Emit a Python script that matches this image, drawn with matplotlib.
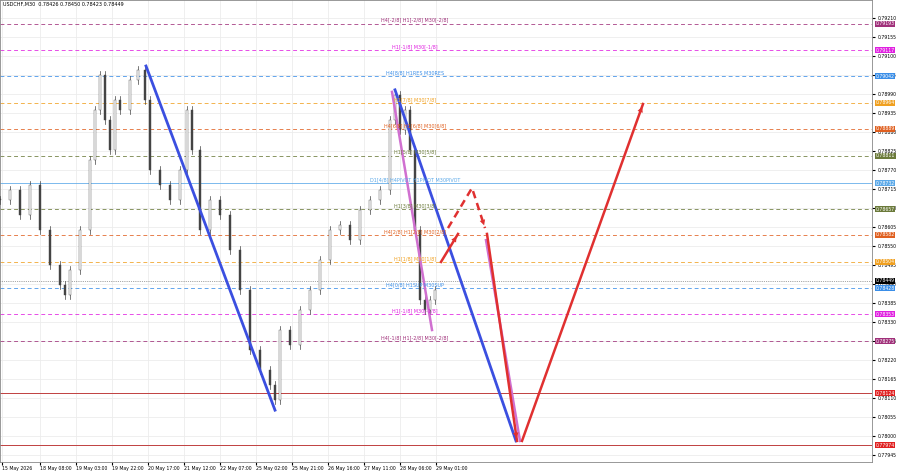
import matplotlib
matplotlib.use("Agg")
import matplotlib.pyplot as plt
from matplotlib.patches import FancyArrowPatch

PX = 1.9  # pixels per hourly bar
bar_x = [0,10,20,30,40,50,60,65,70,80,90,95,100,105,110,115,120,130,138,145,150,160,170,180,187,192,
         200,210,220,230,240,250,260,270,275,280,290,300,310,320,330,340,350,360,370,380,390,395,400,405,
         410,415,420,425,430,435]
closes = [0.78683,0.78712,0.78640,0.78727,0.78596,0.78495,0.78437,0.78408,0.78480,0.78596,0.78799,0.78944,
          0.79045,0.78915,0.78828,0.78973,0.78944,0.79031,0.79060,0.78973,0.78770,0.78727,0.78683,0.78770,
          0.78944,0.78828,0.78596,0.78683,0.78640,0.78538,0.78422,0.78249,0.78191,0.78148,0.78104,0.78307,
          0.78263,0.78365,0.78422,0.78509,0.78596,0.78611,0.78567,0.78654,0.78683,0.78712,0.78915,0.78987,
          0.78886,0.78944,0.78828,0.78596,0.78394,0.78365,0.78394,0.78422]

level_prices = [0.79193,0.79117,0.79042,0.78964,0.78889,0.78811,0.78732,0.78657,0.78582,0.78504,0.78428,0.78353,0.78275]
level_names = ["H4[-2/8] H1[-2/8] M30[-2/8]","H1[-1/8] M30[-1/8]","H4[8/8] H1RES M30RES","H1[7/8] M30[7/8]",
               "H4[6/8] H1[6/8] M30[6/8]","H1[5/8] M30[5/8]","D1[4/8] H4PIVOT H1PIVOT M30PIVOT","H1[3/8] M30[3/8]",
               "H4[2/8] H1[2/8] M30[2/8]","H1[1/8] M30[1/8]","H4[0/8] H1SUP M30SUP","H1[-1/8] M30[-1/8]",
               "H4[-1/8] H1[-2/8] M30[-2/8]"]
level_colors = ["#a0307a","#e020e0","#3a8ee8","#f0a020","#e06020","#6b7a3a","#5aa8e8","#6b7a3a",
                "#e06020","#f0a020","#3a8ee8","#e020e0","#a0307a"]
red_levels = [0.78124,0.77974]
current_price = 0.78449

tick_labels = ["15 May 2026","18 May 08:00","19 May 03:00","19 May 22:00","20 May 17:00","21 May 12:00",
               "22 May 07:00","25 May 02:00","25 May 21:00","26 May 16:00","27 May 11:00","28 May 06:00","29 May 01:00"]
tick_px = [2,40,76,112,148,184,220,256,292,328,364,400,436]
price_ticks = [0.79210,0.79155,0.79100,0.79045,0.78990,0.78935,0.78880,0.78825,0.78770,0.78715,0.78660,0.78605,
               0.78550,0.78495,0.78440,0.78385,0.78330,0.78275,0.78220,0.78165,0.78110,0.78055,0.78000,0.77945]

blue1 = ([146,275],[0.79071,0.78075])
blue2 = ([395,516],[0.79002,0.77986])
pink1 = ([392,432],[0.78996,0.78307])
pink2 = ([486,520],[0.78567,0.77986])
red_up1 = ([441,458],[0.78504,0.78585])
red_dash = ([448,472,485],[0.78602,0.78718,0.78602])
red_down = ([487,517],[0.78585,0.77986])
red_up2 = ([522,643],[0.77986,0.78961])

W = 872
fig = plt.figure(figsize=(9,4.74), dpi=100)
ax = fig.add_axes([0.0, 12/474, W/900, 462/474])
ax.set_xlim(0, W/PX)
ax.set_ylim(0.77925, 0.79262)

for t in tick_px:
    ax.axvline(t/PX, color="#ececec", lw=0.6, zorder=0)
for p in price_ticks:
    ax.axhline(p, color="#ececec", lw=0.6, zorder=0)

for p, n, c in zip(level_prices, level_names, level_colors):
    ls = "-" if "PIVOT" in n else (0,(4,3))
    ax.axhline(p, color=c, lw=0.7, ls=ls, alpha=0.8, zorder=1)
    ax.text(415/PX, p+0.00003, n, color=c, fontsize=3.5, ha="center", va="bottom", zorder=5)
for p in red_levels:
    ax.axhline(p, color="#c04040", lw=0.7, zorder=1)

prev = closes[0]
for x, c in zip(bar_x, closes):
    xb = x/PX
    hi = max(prev, c) + 0.00012
    lo = min(prev, c) - 0.00012
    ax.plot([xb, xb], [lo, hi], color="#444444", lw=0.5, zorder=3)
    ax.add_patch(plt.Rectangle((xb-0.6, min(prev,c)), 1.2, max(abs(c-prev),0.00003),
                               facecolor="white" if c > prev else "#444444", edgecolor="#444444", lw=0.3, zorder=3))
    prev = c

def seg(d, color, lw, ls="-", arrow=False):
    xs = [v/PX for v in d[0]]
    ax.plot(xs, d[1], color=color, lw=lw, ls=ls, zorder=4)
    if arrow:
        ax.add_patch(FancyArrowPatch((xs[-2], d[1][-2]), (xs[-1], d[1][-1]), arrowstyle="-|>",
                                     mutation_scale=10, color=color, lw=0, zorder=4))

seg(blue1, "#3b4fe0", 2)
seg(blue2, "#3b4fe0", 2)
seg(pink1, "#d070d0", 1.8)
seg(pink2, "#d070d0", 1.8)
seg(red_up1, "#e03030", 1.8, arrow=True)
seg(red_dash, "#e03030", 1.8, ls=(0,(3,2)), arrow=True)
seg(red_down, "#e03030", 1.8, arrow=True)
seg(red_up2, "#e03030", 1.8, arrow=True)

ax.set_xticks([t/PX for t in tick_px])
ax.set_xticklabels(tick_labels, fontsize=3.3, ha="left")
ax.tick_params(axis="x", length=2, pad=1)
ax.yaxis.tick_right()
ax.set_yticks(price_ticks)
ax.set_yticklabels([f"{p:.5f}" for p in price_ticks], fontsize=3.3)
ax.tick_params(axis="y", length=2, pad=2)
ax.axhline(current_price, color="#555555", lw=0.5, ls=":", zorder=1)

tags = list(zip(level_prices, level_colors)) + [(p, "#e02020") for p in red_levels] + [(current_price, "black")]
for p, c in tags:
    ax.text(1.004, p, f"{p:.5f}", transform=ax.get_yaxis_transform(), fontsize=3.3, color="white",
            va="center", ha="left", bbox=dict(boxstyle="square,pad=0.15", fc=c, ec="none"), zorder=6)
for s in ax.spines.values():
    s.set_color("#888888"); s.set_linewidth(0.6)
fig.text(0.003, 0.997, "USDCHF,M30  0.78426 0.78450 0.78423 0.78449", fontsize=3.5, va="top")
fig.savefig("out.png", dpi=100)
